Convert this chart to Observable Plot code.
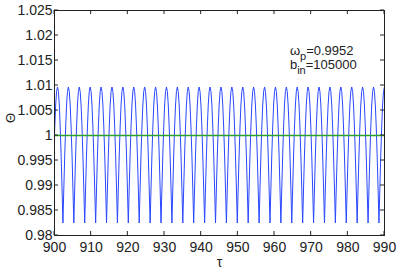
<!DOCTYPE html>
<html>
<head>
<meta charset="utf-8">
<script src="https://cdn.jsdelivr.net/npm/d3@7"></script>
<script src="https://cdn.jsdelivr.net/npm/@observablehq/plot@0.6"></script>
<style>
  html, body { margin: 0; padding: 0; background: #fff; }
  #chart { width: 399px; height: 270px; }
</style>
</head>
<body>
<div id="chart"></div>
<script>
// Times of the oscillation minima (τ)
const tMin = [899.33, 902.30, 905.27, 908.24, 911.22, 914.19, 917.16, 920.13, 923.10, 926.08,
  929.05, 932.02, 934.99, 937.96, 940.94, 943.91, 946.88, 949.85, 952.82, 955.80,
  958.77, 961.74, 964.71, 967.68, 970.66, 973.63, 976.60, 979.57, 982.54, 985.52, 988.49];
// One cycle of the waveform: τ offset from the minimum and Θ value
const cycleOffset = [0, 0.248, 0.495, 0.743, 0.991, 1.238, 1.486, 1.734, 1.981, 2.229, 2.477, 2.724];
const cycleTheta  = [0.9825, 0.9895, 0.9961, 1.0017, 1.0061, 1.0088, 1.0097, 1.0088, 1.0061, 1.0017, 0.9961, 0.9895];
// Reference (green) level
const refLevel = [1];
// Ticks
const xTicks = [900, 910, 920, 930, 940, 950, 960, 970, 980, 990];
const xTickLabels = ["900", "910", "920", "930", "940", "950", "960", "970", "980", "990"];
const yTicks = [0.98, 0.985, 0.99, 0.995, 1, 1.005, 1.01, 1.015, 1.02, 1.025];
const yTickLabels = ["0.98", "0.985", "0.99", "0.995", "1", "1.005", "1.01", "1.015", "1.02", "1.025"];
// Annotation
const annoMain = ["ω", "b"];
const annoSub = ["p", "in"];
const annoValue = ["=0.9952", "=105000"];
const annoTau = [964.2, 964.2];
const annoTheta = [1.0161, 1.0133];

const series = [];
for (const t of tMin) {
  cycleOffset.forEach((o, i) => series.push({tau: t + o, theta: cycleTheta[i]}));
}
const anno = annoMain.map((m, i) => ({tau: annoTau[i], theta: annoTheta[i], main: m, sub: annoSub[i], val: annoValue[i]}));

const font = "'Liberation Sans', Arial, Helvetica, sans-serif";
const axisColor = "#222";

const plot = Plot.plot({
  width: 399,
  height: 270,
  marginLeft: 54,
  marginRight: 15,
  marginTop: 10,
  marginBottom: 35,
  style: {fontFamily: font, fontSize: "14px", color: axisColor, background: "#fff"},
  x: {type: "linear", domain: [900, 990], label: null},
  y: {type: "linear", domain: [0.98, 1.025], label: null},
  marks: [
    Plot.line(series, {x: "tau", y: "theta", stroke: "#2a48ff", strokeWidth: 1, clip: true}),
    Plot.ruleY(refLevel, {stroke: "#2ca02c", strokeWidth: 1.3}),
    Plot.frame({stroke: axisColor, strokeWidth: 1}),
    Plot.axisX(xTicks, {anchor: "bottom", tickSize: 0, tickPadding: 7, tickFormat: (d, i) => xTickLabels[i], fontSize: 14, label: null}),
    Plot.axisY(yTicks, {anchor: "left", tickSize: 0, tickPadding: 2, tickFormat: (d, i) => yTickLabels[i], fontSize: 14, label: null}),
    Plot.text(["τ"], {frameAnchor: "bottom", dy: 27, fontSize: 14, lineAnchor: "middle"}),
    Plot.text(["Θ"], {frameAnchor: "left", dx: -44, rotate: -90, fontSize: 13, lineAnchor: "middle"}),
    Plot.text(anno, {x: "tau", y: "theta", text: d => d.main + d.sub + d.val, textAnchor: "start", lineAnchor: "bottom", fontSize: 13})
  ]
});

// Inward tick marks on all four sides (MATLAB-style box)
const svg = d3.select(plot);
const X = plot.scale("x"), Y = plot.scale("y");
const x0 = 54, x1 = 399 - 15, y0 = 10, y1 = 270 - 35, L = 4;
const g = svg.append("g").attr("stroke", axisColor).attr("stroke-width", 1);
for (const v of xTicks) {
  const px = X.apply(v);
  g.append("line").attr("x1", px).attr("x2", px).attr("y1", y1).attr("y2", y1 - L);
  g.append("line").attr("x1", px).attr("x2", px).attr("y1", y0).attr("y2", y0 + L);
}
for (const v of yTicks) {
  const py = Y.apply(v);
  g.append("line").attr("y1", py).attr("y2", py).attr("x1", x0).attr("x2", x0 + L);
  g.append("line").attr("y1", py).attr("y2", py).attr("x1", x1).attr("x2", x1 - L);
}

// Subscripts in the annotation
svg.selectAll("text").each(function() {
  const el = d3.select(this);
  const content = this.textContent;
  const a = anno.find(a => a.main + a.sub + a.val === content);
  if (!a) return;
  el.text(null);
  el.append("tspan").text(a.main);
  el.append("tspan").attr("dy", 5).attr("font-size", 11).text(a.sub);
  el.append("tspan").attr("dy", -5).text(a.val);
});

document.getElementById("chart").appendChild(plot);
</script>
</body>
</html>
